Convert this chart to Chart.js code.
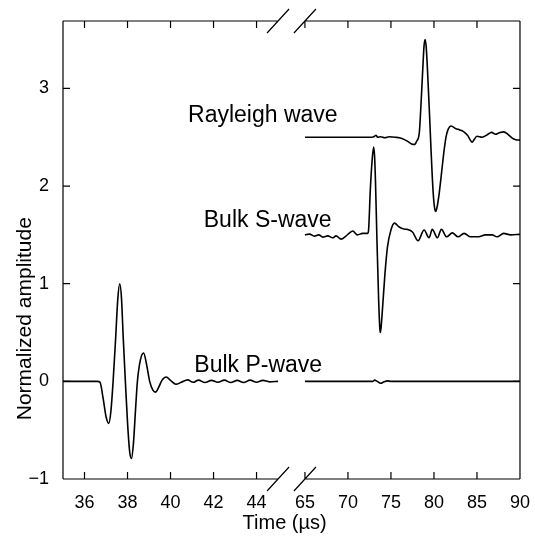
<!DOCTYPE html>
<html>
<head>
<meta charset="utf-8">
<script src="https://cdn.jsdelivr.net/npm/chart.js@4.4.0/dist/chart.umd.min.js"></script>
<style>
  html, body { margin: 0; padding: 0; background: #fff; }
</style>
</head>
<body>
<canvas id="chart" width="535" height="536"></canvas>
<script>
// broken time axis: 35–45 µs on the left, 65–90 µs on the right
const leftRange = [35, 45];
const rightRange = [65, 90];
const xTicks = [36, 38, 40, 42, 44, 65, 70, 75, 80, 85, 90];
const yTicks = [-1, 0, 1, 2, 3];

// Bulk P-wave, left segment
const pLeftTime = [35, 36, 36.6, 36.72, 36.87, 37.0, 37.13, 37.23, 37.33, 37.45, 37.55, 37.64, 37.72, 37.8, 37.9,
  38.0, 38.1, 38.18, 38.27, 38.37, 38.46, 38.6, 38.75, 38.88, 39.03, 39.18, 39.3, 39.45, 39.6, 39.8,
  40.0, 40.25, 40.5, 40.8, 41.05, 41.3, 41.6, 41.9, 42.2, 42.5, 42.8, 43.1, 43.4, 43.7, 44.0, 44.3, 44.6, 45];
const pLeftAmp = [0, 0, 0, -0.01, -0.18, -0.36, -0.43, -0.3, 0.0, 0.45, 0.85, 1.0, 0.85, 0.45, 0.0,
  -0.42, -0.72, -0.79, -0.65, -0.3, 0.0, 0.22, 0.29, 0.18, 0.0, -0.09, -0.11, -0.06, 0.01, 0.045,
  0.01, -0.03, -0.01, 0.015, -0.01, 0.012, -0.012, 0.01, -0.01, 0.012, -0.012, 0.01, -0.012, 0.012, -0.01, 0.01, -0.005, 0];

// Bulk P-wave, right segment
const pRightTime = [65, 72.9, 73.1, 73.4, 73.8, 74.2, 74.6, 75, 90];
const pRightAmp = [0, 0, 0.012, 0.0, -0.02, -0.005, 0.005, 0, 0];

// Bulk S-wave (offset by 1.5)
const sTime = [65, 65.54, 66.1, 66.6, 67.08, 67.66, 68.24, 68.62, 69.2, 69.8, 70.56, 71.1, 71.7, 72.3,
  72.4, 72.6, 72.8, 72.99, 73.1, 73.2, 73.37, 73.57, 73.7, 73.76, 73.85, 74.03, 74.3, 74.6, 75.0, 75.4,
  75.96, 76.5, 76.9, 77.5, 78.15, 78.85, 79.43, 79.8, 80.4, 80.86, 81.47, 82.13, 82.8, 83.5, 84.25,
  85.2, 85.99, 86.76, 87.34, 88.1, 88.9, 90];
const sAmp = [1.5, 1.508, 1.487, 1.5, 1.477, 1.49, 1.47, 1.49, 1.456, 1.49, 1.54, 1.5, 1.515, 1.515,
  1.55, 1.96, 2.25, 2.4, 2.3, 2.05, 1.45, 0.83, 0.55, 0.5, 0.55, 0.76, 1.1, 1.38, 1.55, 1.62,
  1.58, 1.56, 1.556, 1.53, 1.44, 1.55, 1.47, 1.556, 1.47, 1.556, 1.48, 1.52, 1.48, 1.515, 1.48,
  1.48, 1.5, 1.5, 1.48, 1.515, 1.5, 1.505];

// Rayleigh wave (offset by 2.5)
const rTime = [65, 67, 69, 71, 72.8, 73.1, 73.25, 73.45, 73.8, 74.3, 74.8, 75.5, 76.2, 76.9, 77.4, 77.7,
  78.0, 78.3, 78.5, 78.7, 78.85, 78.97, 79.1, 79.24, 79.45, 79.62, 79.8, 79.95, 80.1, 80.2, 80.35,
  80.6, 80.9, 81.17, 81.4, 81.6, 82.0, 82.5, 83.0, 83.4, 83.9, 84.45, 84.7, 85.0, 85.6, 86.2, 86.7,
  87.15, 87.6, 88.1, 88.6, 89.1, 89.5, 90];
const rAmp = [2.5, 2.5, 2.5, 2.5, 2.5, 2.51, 2.52, 2.5, 2.505, 2.495, 2.505, 2.5, 2.49, 2.46, 2.43, 2.425,
  2.46, 2.55, 2.85, 3.2, 3.44, 3.5, 3.42, 3.2, 2.8, 2.45, 2.1, 1.88, 1.76, 1.74, 1.78,
  1.92, 2.15, 2.36, 2.5, 2.57, 2.615, 2.59, 2.575, 2.56, 2.52, 2.45, 2.48, 2.51, 2.5, 2.525, 2.55,
  2.53, 2.545, 2.555, 2.53, 2.49, 2.475, 2.47];

const waveNames = ['Rayleigh wave', 'Bulk S-wave', 'Bulk P-wave'];

// where each curve name sits: right end (µs) and text baseline (amplitude)
const nameAnchors = [
  { t: 68.8, v: 2.66 },
  { t: 68.1, v: 1.58 },
  { t: 67.0, v: 0.095 }
];

const FONT = "'Liberation Sans', Arial, Helvetica, sans-serif";
const GAP = 1.25;          // blank space between the segments, in left-segment µs
const RIGHT_SCALE = 0.4;   // right segment squeezes 25 µs into the width of 10 µs

function toAxis(t) {
  if (t <= leftRange[1]) return t - leftRange[0];
  return (leftRange[1] - leftRange[0]) + GAP + (t - rightRange[0]) * RIGHT_SCALE;
}

function series(times, amps) {
  return times.map((t, i) => ({ x: toAxis(t), y: amps[i] }));
}

const lineStyle = {
  borderColor: '#000',
  borderWidth: 1.6,
  pointRadius: 0,
  fill: false,
  cubicInterpolationMode: 'monotone'
};

const framePlugin = {
  id: 'frame',
  afterDatasetsDraw(chart) {
    const { ctx, chartArea: a, scales: { x, y } } = chart;
    const xEndL = x.getPixelForValue(toAxis(leftRange[1]));
    const xStartR = x.getPixelForValue(toAxis(rightRange[0]));
    const tl = 7;

    ctx.save();
    ctx.strokeStyle = '#000';
    ctx.lineWidth = 1.2;
    ctx.beginPath();
    ctx.moveTo(a.left, a.top); ctx.lineTo(a.left, a.bottom);
    ctx.moveTo(a.right, a.top); ctx.lineTo(a.right, a.bottom);
    [a.top, a.bottom].forEach(py => {
      ctx.moveTo(a.left, py); ctx.lineTo(xEndL, py);
      ctx.moveTo(xStartR, py); ctx.lineTo(a.right, py);
    });
    xTicks.forEach(t => {
      const px = x.getPixelForValue(toAxis(t));
      ctx.moveTo(px, a.bottom); ctx.lineTo(px, a.bottom - tl);
      ctx.moveTo(px, a.top); ctx.lineTo(px, a.top + tl);
    });
    yTicks.forEach(v => {
      const py = y.getPixelForValue(v);
      ctx.moveTo(a.left, py); ctx.lineTo(a.left + tl, py);
      ctx.moveTo(a.right, py); ctx.lineTo(a.right - tl, py);
    });
    // the // break marks
    [xEndL, xStartR].forEach(px => {
      [a.top, a.bottom].forEach(py => {
        ctx.moveTo(px - 11, py + 12);
        ctx.lineTo(px + 11, py - 12);
      });
    });
    ctx.stroke();

    // curve names
    ctx.fillStyle = '#000';
    ctx.font = '23px ' + FONT;
    ctx.textAlign = 'right';
    ctx.textBaseline = 'alphabetic';
    waveNames.forEach((name, i) => {
      const anc = nameAnchors[i];
      ctx.fillText(name, x.getPixelForValue(toAxis(anc.t)), y.getPixelForValue(anc.v));
    });

    // axis titles
    ctx.font = '20px ' + FONT;
    ctx.textAlign = 'center';
    ctx.textBaseline = 'middle';
    ctx.fillText('Time (\u00b5s)', a.left + (a.right - a.left) * 0.485, 523);
    ctx.save();
    ctx.translate(25, a.top + (a.bottom - a.top) * 0.65);
    ctx.rotate(-Math.PI / 2);
    ctx.font = '21px ' + FONT;
    ctx.fillText('Normalized amplitude', 0, 0);
    ctx.restore();
    ctx.restore();
  }
};

new Chart(document.getElementById('chart'), {
  type: 'line',
  data: {
    datasets: [
      { ...lineStyle, data: series(pLeftTime, pLeftAmp) },
      { ...lineStyle, data: series(pRightTime, pRightAmp) },
      { ...lineStyle, data: series(sTime, sAmp) },
      { ...lineStyle, data: series(rTime, rAmp) }
    ]
  },
  options: {
    responsive: false,
    animation: false,
    layout: { padding: { top: 21, right: 12, left: 0, bottom: 0 } },
    plugins: { legend: { display: false }, tooltip: { enabled: false } },
    scales: {
      x: {
        type: 'linear',
        min: 0,
        max: toAxis(rightRange[1]),
        grid: { display: false },
        border: { display: false },
        afterBuildTicks(scale) { scale.ticks = xTicks.map(t => ({ value: toAxis(t) })); },
        afterFit(scale) { scale.height = 57; },
        ticks: {
          color: '#000',
          font: { family: FONT, size: 18 },
          padding: 5,
          maxRotation: 0,
          autoSkip: false,
          callback: (v, i) => String(xTicks[i])
        }
      },
      y: {
        type: 'linear',
        min: -1,
        max: 3.69,
        grid: { display: false },
        border: { display: false },
        afterBuildTicks(scale) { scale.ticks = yTicks.map(v => ({ value: v })); },
        afterFit(scale) { scale.width = 63; },
        ticks: {
          color: '#000',
          font: { family: FONT, size: 18 },
          padding: 6,
          callback: v => (v < 0 ? '\u2212' + Math.abs(v) : String(v))
        }
      }
    }
  },
  plugins: [framePlugin]
});
</script>
</body>
</html>
